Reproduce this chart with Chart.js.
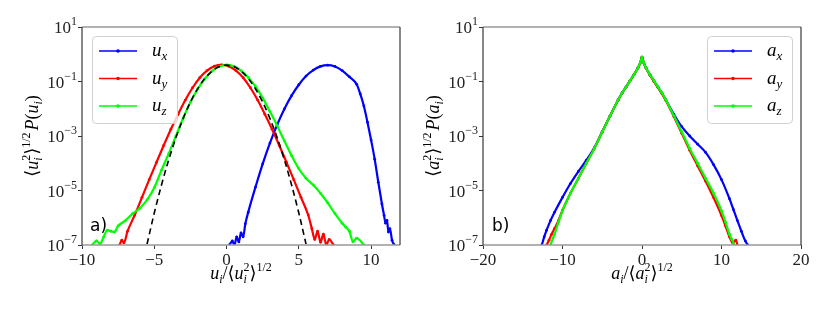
<!DOCTYPE html>
<html>
<head>
<meta charset="utf-8">
<script src="https://cdn.jsdelivr.net/npm/chart.js@4.4.0/dist/chart.umd.min.js"></script>
<style>
  body { margin: 0; background: #fff; }
  #wrap { position: relative; width: 830px; height: 312px; }
  canvas { position: absolute; top: 0; }
</style>
</head>
<body>
<div id="wrap">
  <canvas id="vel-chart" width="415" height="312" style="left:0"></canvas>
  <canvas id="acc-chart" width="415" height="312" style="left:415px"></canvas>
</div>
<script>
// axis ticks
const velTicks = [-10, -5, 0, 5, 10];
const accTicks = [-20, -10, 0, 10, 20];
const pdfTicks = [10, 0.1, 1e-3, 1e-5, 1e-7];
const pdfExponents = ['1', '\u22121', '\u22123', '\u22125', '\u22127'];

// a) velocity pdfs
const uxPos = [0.2, 0.4, 0.55, 0.7, 0.85, 1.0, 1.15, 1.3, 1.5, 2.0, 2.5, 3.0, 3.5, 4.0, 4.5, 5.0, 5.5, 6.0, 6.5, 7.0, 7.5, 8.0, 8.5, 9.0, 9.25, 9.5, 9.75, 10.0, 10.25, 10.5, 10.75, 10.9, 11.0, 11.1, 11.2, 11.3, 11.45, 11.6];
const uxPdf = [1e-7, 1.4e-7, 1e-7, 2e-7, 1.3e-7, 2.8e-7, 2e-7, 6e-7, 1.6e-6, 1.32e-5, 9.5e-5, 5.5e-4, 2.57e-3, 9.8e-3, 0.0302, 0.0759, 0.158, 0.263, 0.359, 0.398, 0.355, 0.251, 0.148, 0.079, 0.035, 0.0126, 3.2e-3, 7.1e-4, 1.4e-4, 2e-5, 3.2e-6, 1.2e-6, 6.3e-7, 8e-7, 3e-7, 4e-7, 1.5e-7, 1e-7];

const uyPos = [-7.4, -7.25, -7.1, -6.85, -6.35, -5.85, -5.35, -4.85, -4.35, -3.85, -3.35, -2.85, -2.35, -1.85, -1.35, -0.85, -0.35, 0.15, 0.65, 1.15, 1.65, 2.15, 2.65, 3.15, 3.65, 4.15, 4.65, 5.15, 5.65, 5.9, 6.1, 6.3, 6.5, 6.7, 6.9, 7.1, 7.4];
const uyPdf = [1e-7, 1.5e-7, 1.2e-7, 3.2e-7, 1.26e-6, 5.6e-6, 2.5e-5, 1.07e-4, 4.5e-4, 1.78e-3, 6.3e-3, 0.0209, 0.0589, 0.138, 0.251, 0.363, 0.407, 0.363, 0.251, 0.138, 0.0589, 0.0209, 6.3e-3, 1.78e-3, 4.5e-4, 1.07e-4, 2.5e-5, 5.6e-6, 1.26e-6, 4e-7, 1.6e-7, 3.2e-7, 1.26e-7, 2.5e-7, 1e-7, 1.6e-7, 1e-7];

const uzPos = [-9.3, -9.0, -8.75, -8.5, -8.25, -8.0, -7.75, -7.5, -7.0, -6.5, -6.0, -5.5, -5.0, -4.5, -4.0, -3.5, -3.0, -2.5, -2.0, -1.5, -1.0, -0.5, 0, 0.5, 1.0, 1.5, 2.0, 2.5, 3.0, 3.5, 4.0, 4.5, 5.0, 5.5, 6.0, 6.5, 7.0, 7.5, 8.0, 8.25, 8.5, 8.75, 9.0, 9.5];
const uzPdf = [1e-7, 1.41e-7, 1.1e-7, 2e-7, 3.5e-7, 3.2e-7, 3e-7, 5e-7, 7.9e-7, 1.41e-6, 2.24e-6, 4.5e-6, 1.26e-5, 5.6e-5, 2.24e-4, 1e-3, 4.57e-3, 0.0174, 0.0525, 0.126, 0.24, 0.355, 0.407, 0.363, 0.251, 0.141, 0.066, 0.0251, 7.9e-3, 2.4e-3, 6.6e-4, 1.9e-4, 6.3e-5, 2.8e-5, 1.58e-5, 7.9e-6, 3.5e-6, 1.41e-6, 6.3e-7, 4.5e-7, 3.2e-7, 1.3e-7, 1.8e-7, 1e-7];

const gaussPos = [-5.5, -5, -4.5, -4, -3.5, -3, -2.5, -2, -1.5, -1, -0.5, 0, 0.5, 1, 1.5, 2, 2.5, 3, 3.5, 4, 4.5, 5, 5.5];
const gaussPdf = [1.08e-7, 1.49e-6, 1.6e-5, 1.34e-4, 8.73e-4, 4.43e-3, 0.0175, 0.054, 0.1295, 0.242, 0.352, 0.399, 0.352, 0.242, 0.1295, 0.054, 0.0175, 4.43e-3, 8.73e-4, 1.34e-4, 1.6e-5, 1.49e-6, 1.08e-7];

// b) acceleration pdfs
const axPos = [-12.6, -12.3, -12.0, -11.5, -11, -10, -9, -8, -7, -6, -5, -4, -3, -2.5, -2, -1.5, -1, -0.5, -0.2, 0, 0.2, 0.5, 1, 1.5, 2, 2.5, 3, 4, 5, 6, 7, 8, 9, 10, 11, 11.5, 12, 12.5, 13, 13.3];
const axPdf = [1e-7, 2e-7, 3.5e-7, 8e-7, 1.6e-6, 5.6e-6, 1.8e-5, 5e-5, 1.3e-4, 3.7e-4, 1.45e-3, 5.6e-3, 0.021, 0.038, 0.063, 0.107, 0.18, 0.32, 0.5, 0.78, 0.5, 0.32, 0.18, 0.105, 0.063, 0.038, 0.021, 6.3e-3, 2.2e-3, 1e-3, 5e-4, 2.5e-4, 8.9e-5, 2.5e-5, 5e-6, 2e-6, 7.9e-7, 3.2e-7, 1.4e-7, 1e-7];

const ayPos = [-12.0, -11.7, -11.4, -11.0, -10.5, -10, -9, -8, -7, -6, -5, -4, -3, -2.5, -2, -1.5, -1, -0.5, -0.2, 0, 0.2, 0.5, 1, 1.5, 2, 2.5, 3, 4, 5, 6, 7, 8, 9, 10, 10.5, 11, 11.4, 11.8, 12.0];
const ayPdf = [1e-7, 1.5e-7, 2.4e-7, 4e-7, 8e-7, 1.9e-6, 8e-6, 2.8e-5, 1e-4, 3.5e-4, 1.4e-3, 5.6e-3, 0.021, 0.038, 0.063, 0.107, 0.18, 0.32, 0.5, 0.78, 0.5, 0.31, 0.17, 0.1, 0.06, 0.036, 0.02, 5.2e-3, 1.25e-3, 3e-4, 8e-5, 2.2e-5, 5.5e-6, 1.2e-6, 5e-7, 2e-7, 1.2e-7, 1.5e-7, 1e-7];

const azPos = [-11.5, -11.2, -11.0, -10.5, -10, -9, -8, -7, -6, -5, -4, -3, -2.5, -2, -1.5, -1, -0.5, -0.2, 0, 0.2, 0.5, 1, 1.5, 2, 2.5, 3, 4, 5, 6, 7, 8, 9, 10, 10.5, 11, 11.3, 11.6];
const azPdf = [1e-7, 1.8e-7, 2.5e-7, 7e-7, 1.8e-6, 7.9e-6, 2.8e-5, 1e-4, 3.5e-4, 1.4e-3, 5.6e-3, 0.021, 0.038, 0.063, 0.107, 0.18, 0.32, 0.5, 0.79, 0.5, 0.32, 0.18, 0.107, 0.063, 0.038, 0.021, 5.6e-3, 1.4e-3, 3.5e-4, 1e-4, 2.8e-5, 7.9e-6, 1.8e-6, 7e-7, 2.5e-7, 1.6e-7, 1e-7];

const SERIF = '"Liberation Serif", "DejaVu Serif", serif';

function toPoints(xs, ys) {
  return xs.map((x, k) => ({ x: x, y: ys[k] }));
}

function pdfDataset(xs, ys, color, order) {
  return {
    data: toPoints(xs, ys),
    borderColor: color,
    backgroundColor: color,
    borderWidth: 2.2,
    pointRadius: 1.4,
    pointBorderWidth: 0,
    pointBackgroundColor: color,
    cubicInterpolationMode: 'monotone',
    clip: 0,
    order: order
  };
}

// draws a run of text pieces (sub/superscripts), returns its width
function drawMath(ctx, parts, x, y, doDraw) {
  let cx = x;
  let held = 0;
  parts.forEach(p => {
    ctx.font = (p.i ? 'italic ' : '') + (p.s || 18) + 'px ' + SERIF;
    const w = ctx.measureText(p.t).width;
    if (doDraw) ctx.fillText(p.t, cx, y + (p.dy || 0));
    if (p.keep) {
      held = w;
      return;
    }
    cx += Math.max(w, held) + (p.gap || 0);
    held = 0;
  });
  return cx - x;
}

function centerMath(ctx, parts, cx, y) {
  const w = drawMath(ctx, parts, 0, 0, false);
  drawMath(ctx, parts, cx - w / 2, y, true);
}

function axisTitles(sym) {
  const yTitle = [
    { t: '\u27E8' }, { t: sym, i: true },
    { t: '2', s: 12, dy: -8, keep: true }, { t: 'i', s: 12, i: true, dy: 4 },
    { t: '\u27E9' }, { t: '1/2', s: 12, dy: -8, gap: 2 },
    { t: 'P', i: true }, { t: '(' }, { t: sym, i: true }, { t: 'i', s: 12, i: true, dy: 4 }, { t: ')' }
  ];
  const xTitle = [
    { t: sym, i: true }, { t: 'i', s: 12, i: true, dy: 4 }, { t: '/' },
    { t: '\u27E8' }, { t: sym, i: true },
    { t: '2', s: 12, dy: -8, keep: true }, { t: 'i', s: 12, i: true, dy: 4 },
    { t: '\u27E9' }, { t: '1/2', s: 12, dy: -8 }
  ];
  return { yTitle, xTitle };
}

function decorPlugin(cfg) {
  return {
    id: 'decor',
    afterDatasetsDraw(chart) {
      const ctx = chart.ctx;
      const area = chart.chartArea;
      ctx.save();

      // frame
      ctx.strokeStyle = '#999999';
      ctx.lineWidth = 1.6;
      ctx.beginPath();
      ctx.moveTo(area.left, area.top);
      ctx.lineTo(area.right, area.top);
      ctx.moveTo(area.left, area.bottom);
      ctx.lineTo(area.right, area.bottom);
      ctx.stroke();
      ctx.strokeStyle = '#3a3a3a';
      ctx.lineWidth = 1.2;
      ctx.beginPath();
      ctx.moveTo(area.left, area.top);
      ctx.lineTo(area.left, area.bottom);
      ctx.moveTo(area.right, area.top);
      ctx.lineTo(area.right, area.bottom);
      ctx.stroke();

      // log tick labels 10^n
      ctx.fillStyle = '#222';
      ctx.textAlign = 'left';
      ctx.textBaseline = 'alphabetic';
      pdfTicks.forEach((v, k) => {
        const py = chart.scales.y.getPixelForValue(v);
        ctx.font = '12px ' + SERIF;
        const we = ctx.measureText(pdfExponents[k]).width;
        ctx.font = '17px ' + SERIF;
        const wb = ctx.measureText('10').width;
        const right = area.left - 5;
        ctx.fillText('10', right - we - wb, py + 6);
        ctx.font = '12px ' + SERIF;
        ctx.fillText(pdfExponents[k], right - we, py - 2);
      });

      // panel letter
      ctx.font = '17px "DejaVu Sans", sans-serif';
      ctx.fillStyle = '#000';
      ctx.fillText(cfg.letter, cfg.letterX, 231);

      // legend box
      const lg = cfg.legend;
      ctx.beginPath();
      ctx.roundRect(lg.x + 0.5, lg.y + 0.5, lg.w, lg.h, 4);
      ctx.fillStyle = 'rgba(255,255,255,0.8)';
      ctx.fill();
      ctx.strokeStyle = '#d0d0d0';
      ctx.lineWidth = 1;
      ctx.stroke();
      lg.items.forEach((item, k) => {
        const ly = lg.y + 15 + k * 27.5;
        ctx.strokeStyle = item.color;
        ctx.lineWidth = 1.5;
        ctx.beginPath();
        ctx.moveTo(lg.x + 7, ly);
        ctx.lineTo(lg.x + 45, ly);
        ctx.stroke();
        ctx.fillStyle = item.color;
        ctx.beginPath();
        ctx.arc(lg.x + 26, ly, 1.8, 0, Math.PI * 2);
        ctx.fill();
        ctx.fillStyle = '#000';
        drawMath(ctx, [{ t: cfg.sym, i: true, s: 19 }, { t: item.sub, i: true, s: 13, dy: 4 }], lg.x + 60, ly + 5, true);
      });

      // axis titles
      const titles = axisTitles(cfg.sym);
      ctx.fillStyle = '#000';
      centerMath(ctx, titles.xTitle, (area.left + area.right) / 2, 279);
      ctx.translate(cfg.yTitleX, (area.top + area.bottom) / 2);
      ctx.rotate(-Math.PI / 2);
      centerMath(ctx, titles.yTitle, 0, 6);

      ctx.restore();
    }
  };
}

function renderPdfChart(canvasId, datasets, xMin, xMax, xTicks, cfg) {
  const ctx = document.getElementById(canvasId).getContext('2d');
  return new Chart(ctx, {
    type: 'line',
    data: { datasets: datasets },
    options: {
      responsive: false,
      animation: false,
      layout: { padding: { left: 0, top: 27, right: cfg.padRight, bottom: 0 } },
      plugins: { legend: { display: false }, tooltip: { enabled: false } },
      scales: {
        x: {
          type: 'linear',
          min: xMin,
          max: xMax,
          afterBuildTicks: scale => { scale.ticks = xTicks.map(v => ({ value: v })); },
          afterFit: scale => { scale.height = 67; },
          border: { display: false },
          grid: { drawOnChartArea: false, drawTicks: true, tickLength: 4, color: '#333' },
          ticks: {
            color: '#222',
            padding: 1,
            maxRotation: 0,
            font: { family: SERIF, size: 17 },
            callback: v => String(v).replace('-', '\u2212')
          }
        },
        y: {
          type: 'logarithmic',
          min: 1e-7,
          max: 10,
          afterBuildTicks: scale => { scale.ticks = pdfTicks.map(v => ({ value: v })); },
          afterFit: scale => { scale.width = cfg.yWidth; },
          border: { display: false },
          grid: { drawOnChartArea: false, drawTicks: true, tickLength: 4, color: '#333' },
          ticks: { display: false }
        }
      }
    },
    plugins: [decorPlugin(cfg)]
  });
}

const gaussSet = pdfDataset(gaussPos, gaussPdf, '#000000', 0);
gaussSet.borderDash = [6, 4];
gaussSet.borderWidth = 1.6;
gaussSet.pointRadius = 0;

renderPdfChart('vel-chart', [
  pdfDataset(uxPos, uxPdf, '#0000ff', 3),
  pdfDataset(uyPos, uyPdf, '#ff0000', 2),
  pdfDataset(uzPos, uzPdf, '#00ff00', 1),
  gaussSet
], -10, 12, velTicks, {
  sym: 'u', letter: 'a)', letterX: 90, yWidth: 82, padRight: 15, yTitleX: 32,
  legend: { x: 92, y: 36, w: 85, h: 87, items: [
    { color: '#0000ff', sub: 'x' }, { color: '#ff0000', sub: 'y' }, { color: '#00ff00', sub: 'z' }
  ] }
});

renderPdfChart('acc-chart', [
  pdfDataset(axPos, axPdf, '#0000ff', 3),
  pdfDataset(ayPos, ayPdf, '#ff0000', 2),
  pdfDataset(azPos, azPdf, '#00ff00', 1)
], -20, 20, accTicks, {
  sym: 'a', letter: 'b)', letterX: 77, yWidth: 68, padRight: 29, yTitleX: 18,
  legend: { x: 292, y: 36, w: 85, h: 87, items: [
    { color: '#0000ff', sub: 'x' }, { color: '#ff0000', sub: 'y' }, { color: '#00ff00', sub: 'z' }
  ] }
});
</script>
</body>
</html>
